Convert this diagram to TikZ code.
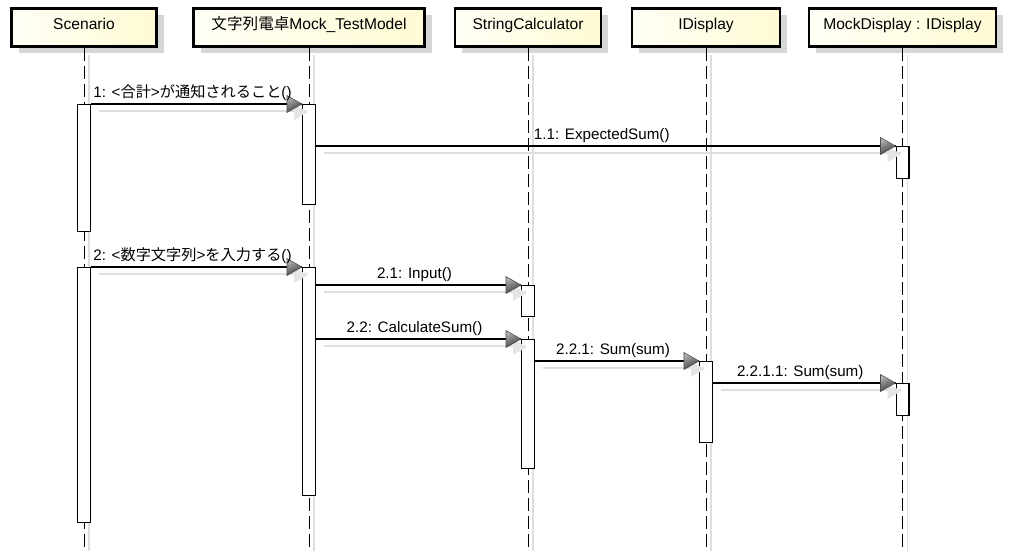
\documentclass[tikz,border=0pt]{standalone}
\usepackage{fontspec}
\setmainfont{Liberation Sans}
\newfontfamily\jp{Noto Sans CJK JP}
\usetikzlibrary{calc,shadows}
\definecolor{boxleft}{RGB}{255,255,246}
\definecolor{boxright}{RGB}{255,251,212}
\definecolor{shadowgray}{RGB}{214,214,214}
\definecolor{lineshadow}{RGB}{222,222,222}

% activation bar: name, x, top, bottom (pixel units)
\newcommand\actbar[4]{%
  \node[actbar, minimum height={(#4-#3)*0.75pt-0.9pt}, anchor=north] (#1) at (#2,#3) {};}

% synchronous message: source bar, target bar, label, name
\newcommand\callmsg[4]{%
  \coordinate (#4-tip) at (#2.north west);
  \coordinate (#4-src) at (#1.east |- #2.north west);
  \draw[msgshadow] ($(#4-src)+(8,7)$) -- ($(#4-tip)+(5,7)$);
  \fill[headshadow] ($(#4-tip)+(6,8)$) -- ++(-14,-7) -- ++(0,15) -- cycle;
  \draw[msgline] (#4-src) -- (#4-tip);
  \draw[msghead] (#4-tip) -- ++(-15,-8.5) -- ++(0,17) -- cycle;
  \node[msglabel] (#4-label) at ($(#4-src)!0.5!(#4-tip)+(-4,-6)$) {#3};}

\begin{document}
\begin{tikzpicture}[x=0.75pt,y=-0.75pt,
  font=\fontsize{11.4}{13}\selectfont,
  objbox/.style={draw=black, line width=2.2pt, left color=boxleft, right color=boxright,
    minimum height=28.5pt, inner sep=0pt,
    drop shadow={shadow xshift=5.5pt, shadow yshift=-5.2pt, fill=shadowgray, opacity=1}},
  objtext/.style={anchor=base, inner sep=0pt, font=\fontsize{11.7}{13}\selectfont},
  lifeline/.style={draw=black, line width=0.75pt, dash pattern=on 9.75pt off 3.75pt},
  lifeshadow/.style={draw=lineshadow, line width=1pt},
  actbar/.style={draw=black, line width=0.9pt, fill=white, minimum width=9.6pt, inner sep=0pt},
  msgline/.style={draw=black, line width=0.85pt},
  msgshadow/.style={draw=lineshadow, line width=1.1pt},
  headshadow/.style={fill=lineshadow!80!white},
  msghead/.style={draw=black!70, line width=0.4pt, top color=black!30, bottom color=black!78, shading angle=25},
  msglabel/.style={anchor=base, inner sep=0pt}
]
\path[fill=white] (0,0) rectangle (1015,551);

% object heads
\node[objbox, minimum width=108.75pt] (scn) at (84,27.5) {};
\node[objbox, minimum width=173.25pt] (mdl) at (309,27.5) {};
\node[objbox, minimum width=109.5pt]  (calc) at (528,27.5) {};
\node[objbox, minimum width=111pt]    (idisp) at (706,27.5) {};
\node[objbox, minimum width=140.25pt] (mock) at (902.5,27.5) {};
\node[objtext] (scn-t) at (84,30) {Scenario};
\node[objtext] (mdl-t) at (309,30) {{\jp 文字列電卓}Mock\_TestModel};
\node[objtext] (calc-t) at (528,30) {StringCalculator};
\node[objtext] (idisp-t) at (706,30) {IDisplay};
\node[objtext] (mock-t) at (902.5,30) {MockDisplay : IDisplay};

% lifelines with their pale shadows
\foreach \o in {scn,mdl,calc,idisp,mock}{
  \coordinate (\o-end) at (\o.south |- 0,548);
  \draw[lifeshadow] ($(\o.south)+(5,7)$) -- ($(\o-end)+(5,3)$);
  \draw[lifeline] (\o.south) -- (\o-end);
}

% activation bars
\actbar{s1}{84}{104}{232}
\actbar{s2}{84}{267}{523}
\actbar{m1}{309}{104}{205}
\actbar{m2}{309}{267}{496}
\actbar{c1}{528}{285}{317}
\actbar{c2}{528}{339}{469}
\actbar{i1}{706}{361}{443}
\actbar{d1}{902.5}{146}{179}
\actbar{d2}{902.5}{383}{416}

% messages
\callmsg{s1}{m1}{1: <{\jp 合計}>{\jp が通知されること}()}{msg1}
\callmsg{m1}{d1}{1.1: ExpectedSum()}{msg11}
\callmsg{s2}{m2}{2: <{\jp 数字文字列}>{\jp を入力する}()}{msg2}
\callmsg{m2}{c1}{2.1: Input()}{msg21}
\callmsg{m2}{c2}{2.2: CalculateSum()}{msg22}
\callmsg{c2}{i1}{2.2.1: Sum(sum)}{msg221}
\callmsg{i1}{d2}{2.2.1.1: Sum(sum)}{msg2211}
\end{tikzpicture}
\end{document}
